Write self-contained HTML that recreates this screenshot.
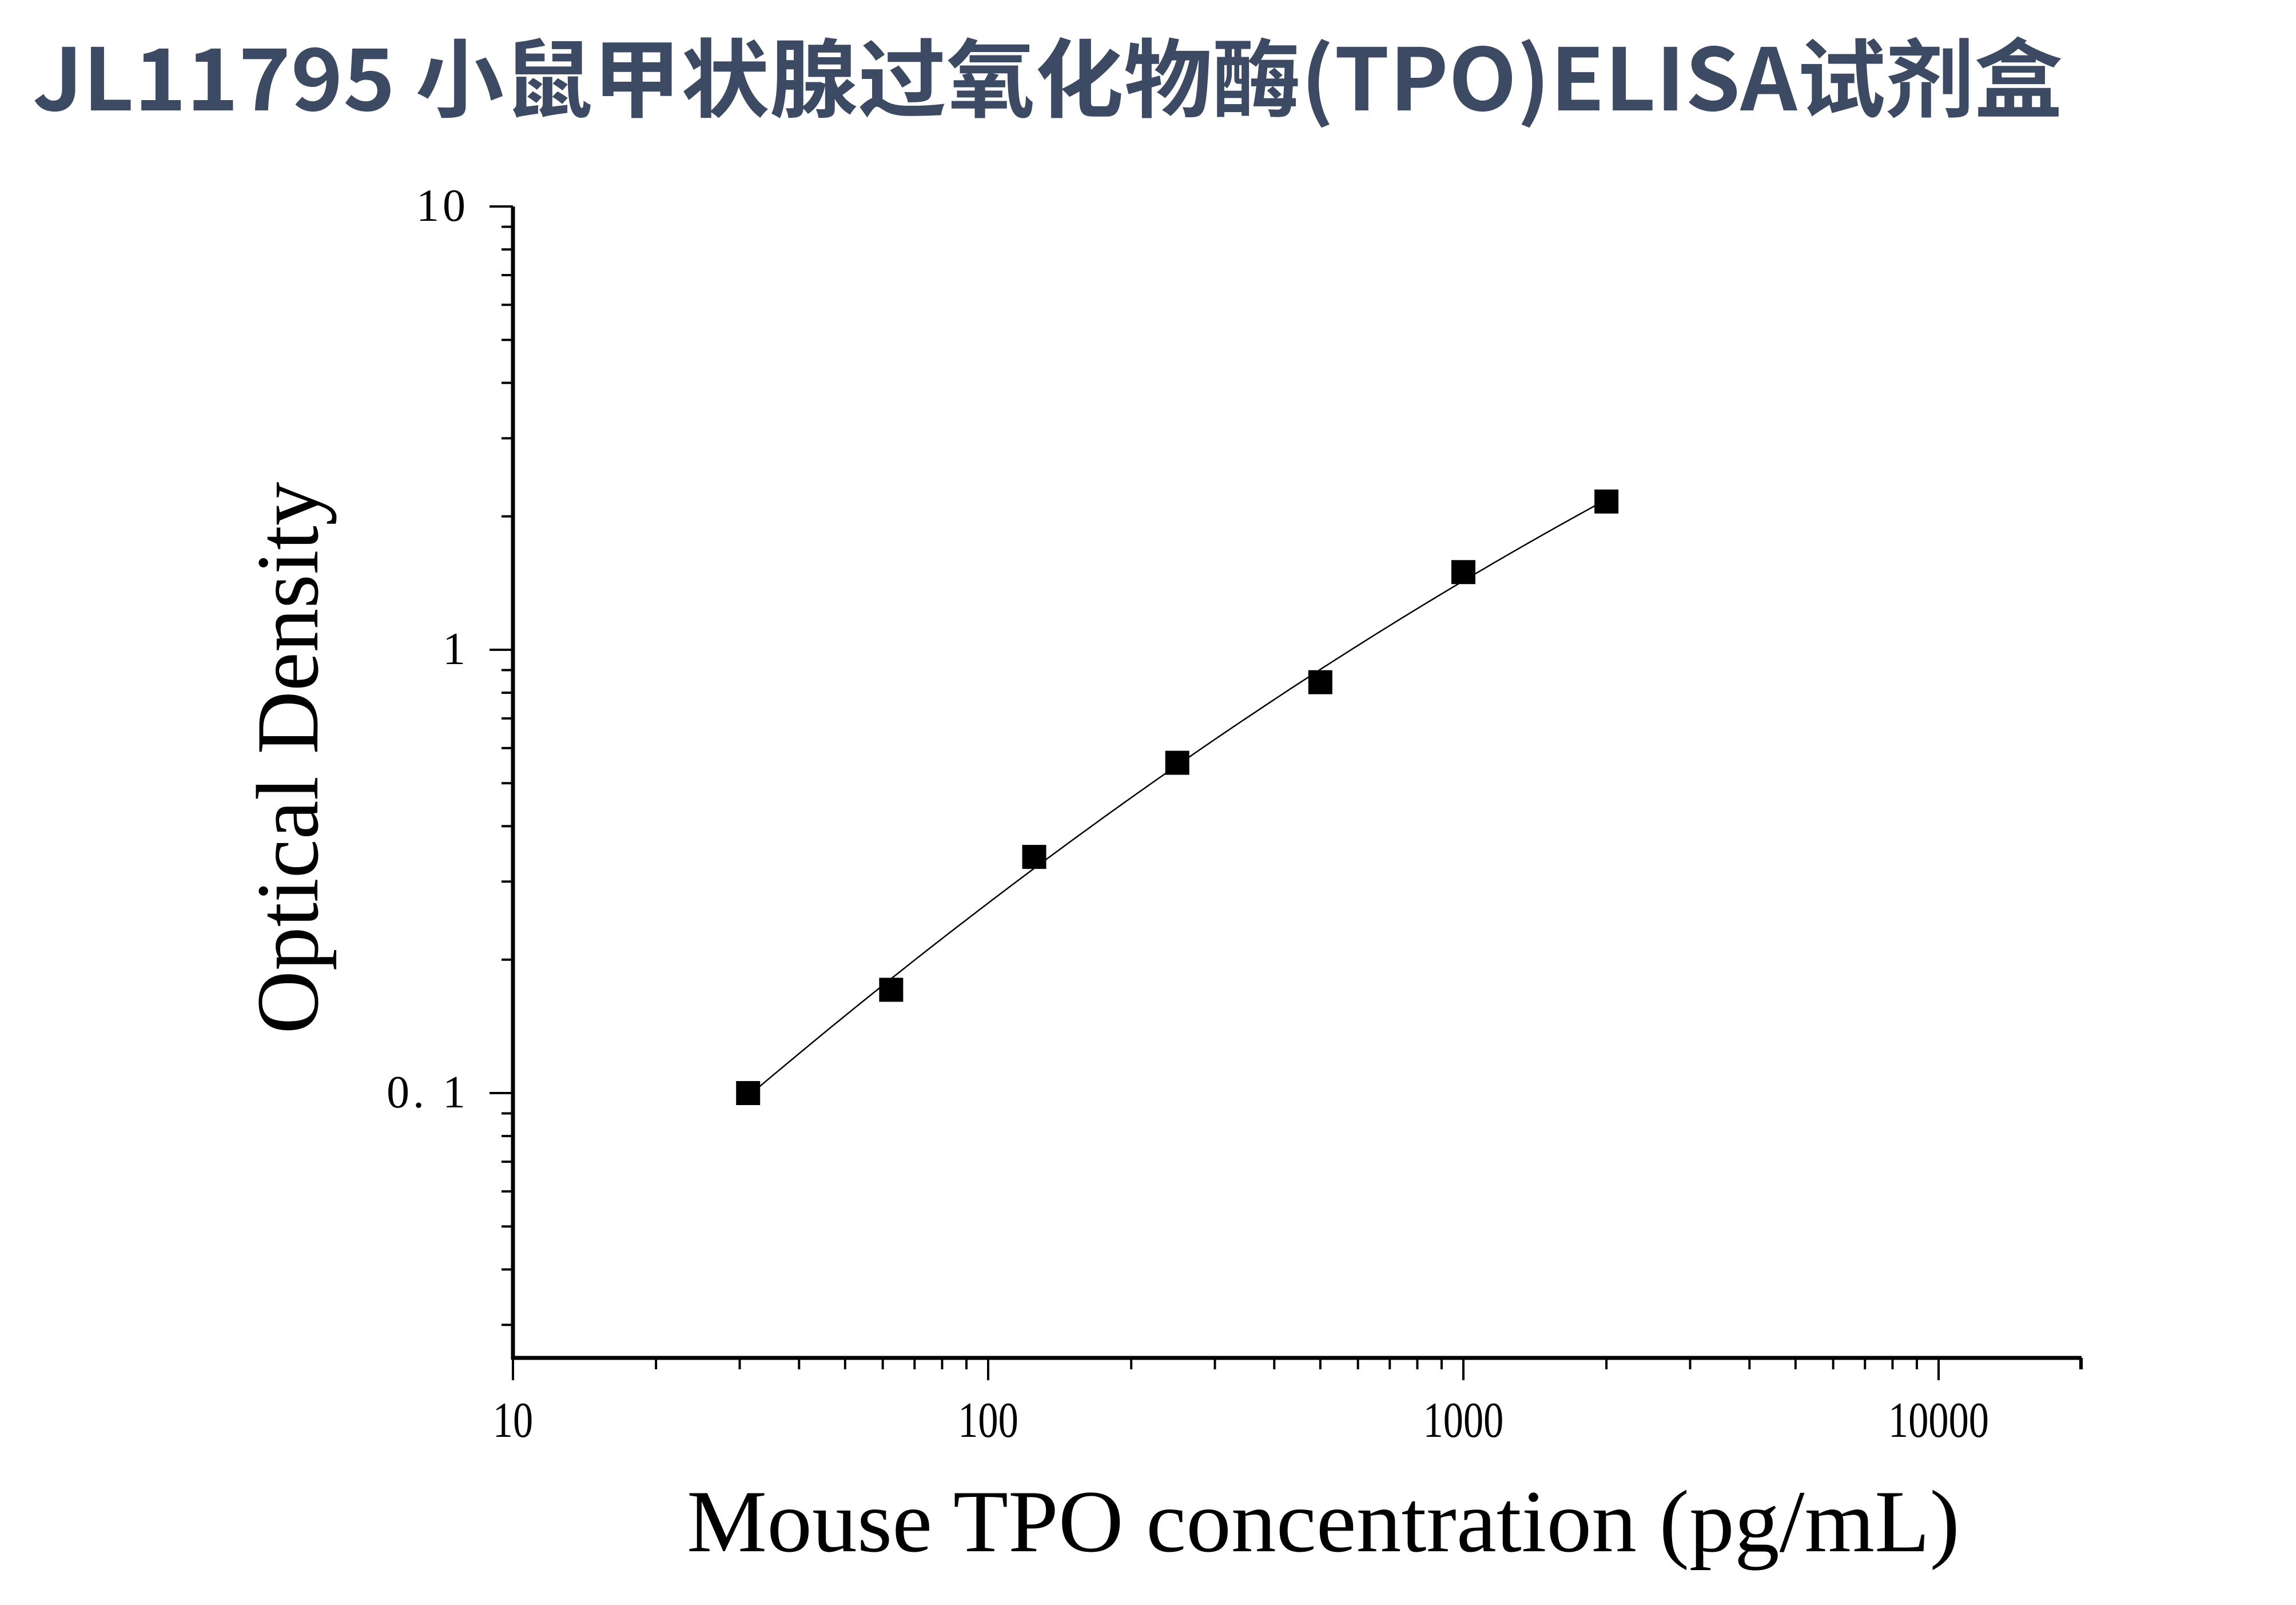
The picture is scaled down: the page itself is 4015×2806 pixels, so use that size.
<!DOCTYPE html>
<html><head><meta charset="utf-8"><style>
html,body{margin:0;padding:0;background:#fff;}
svg{display:block;}
</style></head><body>
<svg id="chart" width="4015" height="2806" viewBox="0 0 4015 2806" xmlns="http://www.w3.org/2000/svg">
<rect width="4015" height="2806" fill="#fff"/>
<text x="57" y="193" font-family="'Noto Sans CJK SC','Liberation Sans',sans-serif" font-weight="bold" font-size="150" fill="#3d4a63" textLength="3550" lengthAdjust="spacingAndGlyphs">JL11795 小鼠甲状腺过氧化物酶(TPO)ELISA试剂盒</text>
<g id="axes"></g>
<g id="plot"></g>
<text x="2314" y="2712" text-anchor="middle" font-family="'Liberation Serif',serif" font-size="155" fill="#000" textLength="2226" lengthAdjust="spacingAndGlyphs">Mouse TPO concentration (pg/mL)</text>
<text transform="translate(555,1325) rotate(-90)" text-anchor="middle" font-family="'Liberation Serif',serif" font-size="155" fill="#000" textLength="965" lengthAdjust="spacingAndGlyphs">Optical Density</text>
</svg>
<script>
const concentrations = [31.25, 62.5, 125, 250, 500, 1000, 2000];
const odValues = [0.1, 0.171, 0.341, 0.556, 0.845, 1.497, 2.16];
const xTickValues = [10, 100, 1000, 10000];
const xTickLabels = ["10", "100", "1000", "10000"];
const yTickValues = [0.1, 1, 10];
const yTickLabels = ["0. 1", "1", "10"];

const NS = "http://www.w3.org/2000/svg";
const X0 = 897, XDEC = 831, XMAX = 3640;
const Y1 = 1136, YDEC = 775, YTOP = 361, YBOT = 2374;
function xs(v){ return X0 + (Math.log10(v) - 1) * XDEC; }
function ys(v){ return Y1 - Math.log10(v) * YDEC; }
function mk(tag, attrs, parent){
  const e = document.createElementNS(NS, tag);
  for (const k in attrs) e.setAttribute(k, attrs[k]);
  parent.appendChild(e); return e;
}
const axes = document.getElementById('axes');
const plot = document.getElementById('plot');

let xa = mk('line', {x1:X0-3, y1:YBOT, x2:XMAX, y2:YBOT, stroke:'#000', 'stroke-width':7}, axes);


let ya = mk('line', {x1:X0, y1:YTOP, x2:X0, y2:YBOT+3, stroke:'#000', 'stroke-width':7}, axes);



for (let d = 10; d <= 10000; d *= 10) {
  for (let m = 1; m <= 9; m++) {
    const v = d * m;
    const x = xs(v);
    if (x > XMAX + 1) break;
    const major = m === 1;
    const t = mk('line', {x1:x, y1:YBOT, x2:x, y2:YBOT + (major ? 39 : 20), stroke:'#000', 'stroke-width':4}, axes);
    
    
  }
}
const endT = mk('line', {x1:XMAX-2, y1:YBOT, x2:XMAX-2, y2:YBOT+20, stroke:'#000', 'stroke-width':4}, axes);


xTickValues.forEach((v, i) => {
  const t = mk('text', {x:xs(v), y:2512, 'text-anchor':'middle', 'font-family':"'Liberation Serif',serif", 'font-size':88, fill:'#000', transform:`translate(${xs(v)},0) scale(0.8,1) translate(${-xs(v)},0)`}, axes);
  t.textContent = xTickLabels[i];
  
  
});

for (let d = 0.01; d <= 10; d *= 10) {
  for (let m = 1; m <= 9; m++) {
    const v = d * m;
    const y = ys(v);
    if (y > YBOT - 2 || y < YTOP - 1) continue;
    const major = m === 1;
    const t = mk('line', {x1:X0 - (major ? 41 : 20), y1:y, x2:X0, y2:y, stroke:'#000', 'stroke-width':4}, axes);
    
    
  }
}
yTickValues.forEach((v, i) => {
  const t = mk('text', {x:820, y:ys(v)+25, 'text-anchor':'end', 'font-family':"'Liberation Serif',serif", 'font-size':80, fill:'#000', 'letter-spacing':'6'}, axes);
  t.textContent = yTickLabels[i];
  
  
});

const lx = concentrations.map(Math.log10), ly = odValues.map(Math.log10);
function fitQuad(xv, yv){
  const n = xv.length; const S = Array(5).fill(0), T = Array(3).fill(0);
  for (let i=0;i<n;i++){ for(let k=0;k<5;k++) S[k]+=Math.pow(xv[i],k); for(let k=0;k<3;k++) T[k]+=yv[i]*Math.pow(xv[i],k); }
  const A = [[S[0],S[1],S[2],T[0]],[S[1],S[2],S[3],T[1]],[S[2],S[3],S[4],T[2]]];
  for (let c=0;c<3;c++){ for(let r=c+1;r<3;r++){ const f=A[r][c]/A[c][c]; for(let k=c;k<4;k++) A[r][k]-=f*A[c][k]; } }
  const b=[0,0,0];
  for (let r=2;r>=0;r--){ let s=A[r][3]; for(let k=r+1;k<3;k++) s-=A[r][k]*b[k]; b[r]=s/A[r][r]; }
  return b;
}
const cf = fitQuad(lx, ly);
let d = '';
const a0 = lx[0], a1 = lx[lx.length-1];
for (let i = 0; i <= 200; i++) {
  const u = a0 + (a1 - a0) * i / 200;
  const v = cf[0] + cf[1]*u + cf[2]*u*u;
  const px = xs(Math.pow(10,u)), py = ys(Math.pow(10,v));
  d += (i ? 'L' : 'M') + px.toFixed(1) + ' ' + py.toFixed(1);
}
const curve = mk('path', {d:d, fill:'none', stroke:'#000', 'stroke-width':2.5}, plot);



concentrations.forEach((c, i) => {
  const s = 42;
  const r = mk('rect', {x:xs(c)-s/2, y:ys(odValues[i])-s/2, width:s, height:s, fill:'#000'}, plot);
  
  
});
</script>
</body></html>
